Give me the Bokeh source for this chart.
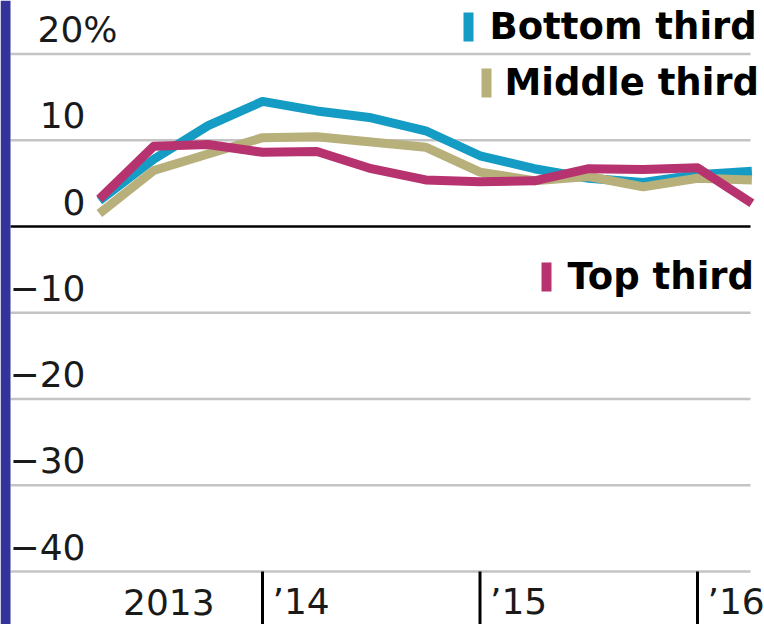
from bokeh.plotting import figure
from bokeh.models import Range1d, ColumnDataSource, BoxAnnotation
from bokeh.core.properties import value
from bokeh.embed import file_html
from bokeh.resources import INLINE

# ---------------- data ----------------
quarters = [2013.25, 2013.5, 2013.75, 2014.0, 2014.25, 2014.5, 2014.75,
            2015.0, 2015.25, 2015.5, 2015.75, 2016.0, 2016.25]
bottom_third = [3.0, 7.8, 11.7, 14.5, 13.4, 12.6, 11.1, 8.2, 6.7, 5.6, 5.1, 6.0, 6.4]
middle_third = [1.5, 6.5, 8.4, 10.3, 10.4, 9.8, 9.2, 6.3, 5.3, 5.8, 4.6, 5.6, 5.4]
top_third = [3.2, 9.3, 9.5, 8.6, 8.7, 6.7, 5.4, 5.2, 5.3, 6.7, 6.6, 6.8, 2.7]

series_names = ["Bottom third", "Middle third", "Top third"]
series_colors = ["#149cc4", "#b8b07b", "#b6336f"]

y_ticks = [-40, -30, -20, -10, 0, 10, 20]
y_tick_labels = ["\u221240", "\u221230", "\u221220", "\u221210", "0", "10", "20%"]
x_year_ticks = [2014, 2015, 2016]
x_label_years = [2013, 2014, 2015, 2016]
x_labels = ["2013", "\u201914", "\u201915", "\u201916"]

# ---------------- layout helpers (figure pixel -> data) ----------------
W, H = 764, 624
PX_PER_YEAR = 217.5
PX_PER_UNIT = 8.625
ZERO_FY = 226.0      # pixel row of the 0 line
Y2014_FX = 262.0     # pixel column of the 2014 boundary


def X(fx):
    return 2014 + (fx - Y2014_FX) / PX_PER_YEAR


def Y(fy):
    return (ZERO_FY - fy) / PX_PER_UNIT


p = figure(width=W, height=H, output_backend="svg", toolbar_location=None,
           x_range=Range1d(X(0), X(W)), y_range=Range1d(Y(H), Y(0)),
           x_axis_location=None, y_axis_location=None, min_border=0)
p.grid.visible = False
p.outline_line_color = None
p.background_fill_color = "white"
p.border_fill_color = "white"

# left purple band
p.add_layout(BoxAnnotation(right=X(10), fill_color="#33339b", fill_alpha=1.0,
                           line_alpha=0))

# horizontal grid lines
grid_left, grid_right = X(10), X(750)
grid_src = ColumnDataSource(dict(
    x0=[grid_left] * len(y_ticks), x1=[grid_right] * len(y_ticks),
    y=y_ticks,
    c=["black" if t == 0 else "#c4c4c4" for t in y_ticks],
    w=[2.6 if t == 0 else 2.4 for t in y_ticks]))
p.segment(x0="x0", x1="x1", y0="y", y1="y", source=grid_src,
          line_color="c", line_width="w")

# y tick labels
TICK_FONT = value("DejaVu Sans")
FS = "36px"
pct_shift = [32 if lab.endswith("%") else 0 for lab in y_tick_labels]
ylab_src = ColumnDataSource(dict(x=[X(85)] * len(y_ticks), y=y_ticks,
                                 t=y_tick_labels, dx=pct_shift))
p.text(x="x", y="y", text="t", source=ylab_src, x_offset="dx", y_offset=-25,
       text_align="right", text_baseline="middle",
       text_font=TICK_FONT, text_font_size=FS, text_color="#1a1a1a")

# x year tick marks
tick_bottom = Y(H)
p.segment(x0=x_year_ticks, x1=x_year_ticks, y0=[min(y_ticks)] * 3,
          y1=[tick_bottom] * 3, line_color="black", line_width=3)

# x labels
xoff = [78 if lab == x_labels[0] else 10 for lab in x_labels]
xlab_src = ColumnDataSource(dict(x=x_label_years, y=[min(y_ticks)] * 4,
                                 t=x_labels, dx=xoff))
p.text(x="x", y="y", text="t", source=xlab_src, x_offset="dx", y_offset=30,
       text_align="left", text_baseline="middle",
       text_font=TICK_FONT, text_font_size=FS, text_color="#1a1a1a")

# data lines (bottom third underneath, top third on top)
for name, vals, col in zip(series_names, [bottom_third, middle_third, top_third],
                           series_colors):
    p.line(quarters, vals, line_color=col, line_width=9, line_join="round")

# legend entries (marker bars + bold labels)
leg_bar_left = [463, 481, 541]
leg_top = [12, 68, 262]
leg_text_left = [489, 504, 567]
for i, name in enumerate(series_names):
    p.quad(left=X(leg_bar_left[i]), right=X(leg_bar_left[i] + 10),
           top=Y(leg_top[i]), bottom=Y(leg_top[i] + 29),
           fill_color=series_colors[i], line_alpha=0)
    p.text(x=[X(leg_text_left[i])], y=[Y(leg_top[i] + 14)], text=[name],
           text_align="left", text_baseline="middle",
           text_font=value("DejaVu Sans"), text_font_style="bold",
           text_font_size="37px", text_color="black")

open("out.html", "w").write(file_html(p, INLINE))
